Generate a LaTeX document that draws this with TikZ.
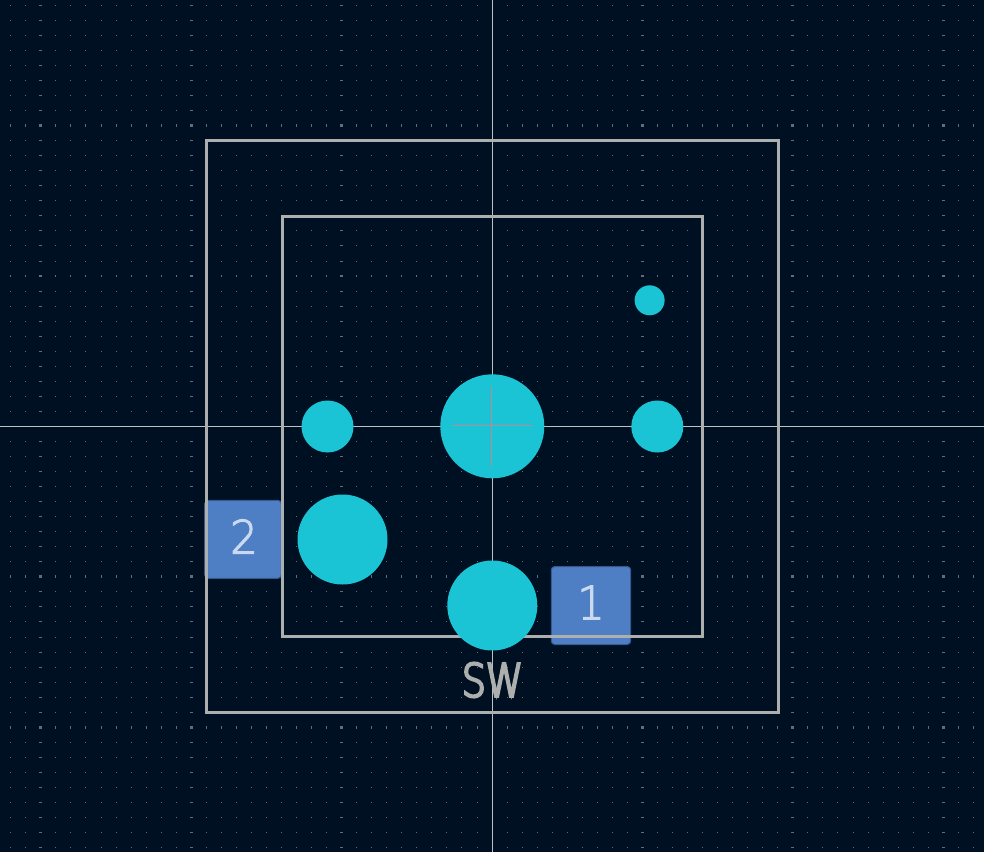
\documentclass[tikz,border=0pt]{standalone}
\usepackage{fontspec}
\newfontfamily\padfont[FakeBold=2.4,FakeStretch=0.95]{DejaVu Sans ExtraLight}
\newfontfamily\reffont[FakeBold=5,FakeStretch=0.82]{DejaVu Sans ExtraLight}
\definecolor{boardbg}{HTML}{001023}
\definecolor{griddot}{HTML}{666C74}
\definecolor{boxline}{HTML}{ADAEAE}
\definecolor{crossline}{HTML}{BEC0C2}
\definecolor{holefill}{HTML}{1BC4D5}
\definecolor{padfill}{HTML}{4E7EC4}
\definecolor{padedge}{HTML}{37598F}
\definecolor{padtext}{HTML}{CBD9F0}
\definecolor{anchormark}{HTML}{B88A96}
\tikzset{
  x=1pt,y=-1pt,
  hole/.style={circle,fill=holefill,draw=none,inner sep=0pt,minimum size=#1},
  padbox/.style={draw=padedge,line width=1pt,fill=padfill,rounded corners=3.5pt,inner sep=0pt,
    minimum width=#1,minimum height=78pt},
  padnum/.style={inner sep=0pt,text=padtext,font=\padfont\fontsize{46}{46}\selectfont},
  boxrect/.style={draw=boxline,line width=3pt,fill=none},
  axisline/.style={draw=crossline,line width=1pt},
  markline/.style={draw=anchormark,line width=1pt}
}
\begin{document}
\begin{tikzpicture}
\useasboundingbox (0,0) rectangle (984,852);
\fill[boardbg] (0,0) rectangle (984,852);
% grid
\begin{scope}
\clip (0,0) rectangle (984,852);
\foreach \i in {-33,...,33}{
  \foreach \j in {-29,...,29}{
    \pgfmathtruncatemacro{\onaxis}{(\i==0)||(\j==0)}
    \ifnum\onaxis=0
    \pgfmathsetmacro{\gx}{492+15.04*\i}
    \pgfmathsetmacro{\gy}{426.4+15.04*\j}
    \pgfmathtruncatemacro{\mi}{mod(abs(\i),10)==0}
    \pgfmathtruncatemacro{\mj}{mod(abs(\j),10)==0}
    \pgfmathsetmacro{\hw}{\mi==1?1.4:0.45}
    \pgfmathsetmacro{\hh}{\mj==1?1.4:0.45}
    \fill[griddot] (\gx-\hw,\gy-\hh) rectangle (\gx+\hw,\gy+\hh);
    \fi
  }
}
\end{scope}
% axes
\coordinate (axT) at (492,0);
\coordinate (axB) at (492,852);
\coordinate (axL) at (0,426);
\coordinate (axR) at (984,426);
\draw[axisline] (axT) -- (axB);
\draw[axisline] (axL) -- (axR);
% pads
\node[padbox=76.6pt] (pad2) at (243,539.3) {};
\node[padbox=79.4pt] (pad1) at (591,605.5) {};
\node[padnum] (num2) at (244,536.5) {2};
\node[padnum] (num1) at (591,602.5) {1};
% outlines
\draw[boxrect] (206.3,140.3) rectangle (778,712.3);
\draw[boxrect] (282.3,216.3) rectangle (702.3,636.3);
% holes
\node[hole=104pt] (hcenter) at (492.3,426.3) {};
\node[hole=52pt] (hleft) at (327.5,426.5) {};
\node[hole=52pt] (hright) at (657.3,426.5) {};
\node[hole=30pt] (hsmall) at (649.6,300.3) {};
\node[hole=90pt] (hpadtwo) at (342.5,539.5) {};
\node[hole=90pt] (hpadone) at (492.3,605.5) {};
% anchor mark
\coordinate (mL) at (452,425.5);
\coordinate (mR) at (532,425.5);
\coordinate (mT) at (491.5,386);
\coordinate (mB) at (491.5,466);
\draw[markline] (mL) -- (mR);
\draw[markline] (mT) -- (mB);
% reference
\node[inner sep=0pt,text=boxline,font=\reffont\fontsize{46}{46}\selectfont] (reflabel) at (492.5,680) {SW};
\end{tikzpicture}
\end{document}
